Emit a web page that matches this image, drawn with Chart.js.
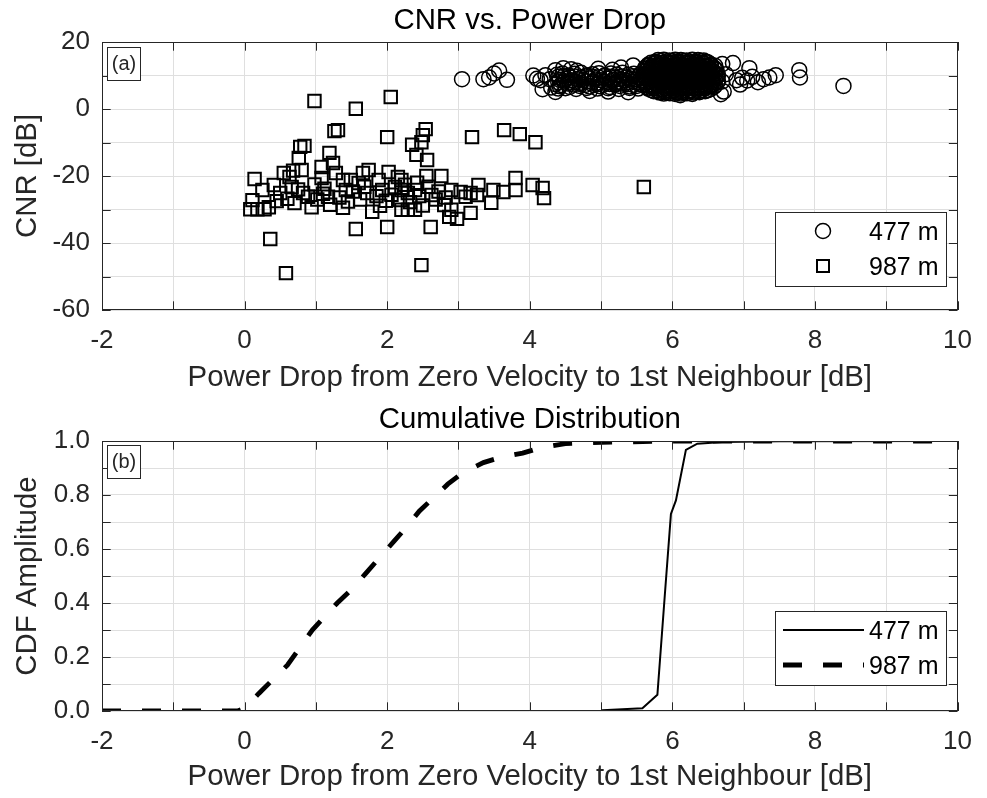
<!DOCTYPE html>
<html>
<head>
<meta charset="utf-8">
<title>CNR vs. Power Drop</title>
<script src="https://cdn.jsdelivr.net/npm/chart.js@4/dist/chart.umd.min.js"></script>
<style>
  body { margin: 0; background: #fff; }
  .panel { position: absolute; left: 0; width: 987px; height: 399px; }
  #top { top: 0; }
  #bottom { top: 399px; }
</style>
</head>
<body>
<div class="panel" id="top"><canvas id="cnrChart" width="987" height="399"></canvas></div>
<div class="panel" id="bottom"><canvas id="cdfChart" width="987" height="399"></canvas></div>
<script>
const seriesNames = ['477 m', '987 m']

// [power drop dB, CNR dB]
const cnr477 = [
  // sparse left tail
  [3.05, 8.9], [3.35, 8.9], [3.43, 9.4], [3.5, 10.6], [3.57, 11.5], [3.68, 8.7], [4.05, 10.0], [4.1, 9.0],
  [4.15, 8.6], [4.18, 5.9], [4.22, 10.1], [4.28, 8.9], [4.3, 6.4], [4.47, 12.2], [4.4, 6.1],
  // band 4.3 .. 5.6 dB
  [4.38, 10.2], [4.46, 10.6], [4.55, 10.0], [4.63, 10.5], [4.72, 10.8], [4.8, 10.1], [4.88, 10.4], [4.97, 10.7],
  [5.05, 10.0], [5.14, 10.6], [5.22, 10.3], [5.3, 10.8], [5.38, 10.2], [5.46, 10.5], [5.55, 10.4],
  [4.4, 9.6], [4.48, 9.8], [4.56, 9.5], [4.64, 9.7], [4.72, 9.4], [4.8, 9.8], [4.88, 9.6], [4.96, 9.5],
  [5.04, 9.8], [5.12, 9.6], [5.2, 9.4], [5.28, 9.7], [5.36, 9.5], [5.44, 9.8], [5.52, 9.6],
  [4.42, 8.7], [4.5, 9.0], [4.58, 8.6], [4.67, 8.9], [4.75, 8.7], [4.84, 9.1], [4.92, 8.8], [5.0, 8.6],
  [5.09, 9.0], [5.17, 8.7], [5.26, 8.9], [5.34, 8.6], [5.42, 9.0], [5.5, 8.8], [5.58, 8.7],
  [4.4, 8.0], [4.48, 8.2], [4.56, 7.9], [4.64, 8.1], [4.72, 7.8], [4.8, 8.2], [4.88, 8.0], [4.96, 7.9],
  [5.04, 8.2], [5.12, 8.0], [5.2, 7.8], [5.28, 8.1], [5.36, 7.9], [5.44, 8.2], [5.52, 8.0],
  [4.36, 7.4], [4.44, 7.2], [4.53, 7.6], [4.61, 7.3], [4.7, 7.5], [4.78, 7.2], [4.86, 7.6], [4.95, 7.4],
  [5.03, 7.2], [5.12, 7.5], [5.2, 7.3], [5.28, 7.6], [5.37, 7.4], [5.45, 7.2], [5.53, 7.5],
  [4.42, 6.8], [4.56, 6.6], [4.7, 6.9], [4.84, 6.7], [4.98, 6.8], [5.12, 6.6], [5.26, 6.9], [5.4, 6.7], [5.5, 6.9],
  [4.5, 6.2], [4.65, 6.0], [4.8, 6.3], [4.95, 6.1], [5.1, 6.2], [5.25, 6.0], [5.4, 6.3], [5.52, 6.1],
  [4.36, 11.6], [4.36, 5.1], [4.66, 11.4], [4.96, 12.0], [5.16, 11.7], [5.28, 12.4], [5.45, 13.0], [5.1, 5.2],
  [5.38, 5.0], [4.58, 11.9], [4.84, 5.4],
  // dense core 5.6 .. 6.6 dB
  [5.8, 14.6], [5.88, 14.7], [5.96, 14.5], [6.04, 14.7], [6.12, 14.6], [6.2, 14.5], [6.28, 14.7], [6.36, 14.6], [6.44, 14.5],
  [5.76, 14.1], [5.84, 14.3], [5.92, 14.2], [6.0, 14.3], [6.08, 14.1], [6.16, 14.3], [6.24, 14.2], [6.32, 14.1],
  [6.4, 14.3], [6.48, 14.0],
  [5.7, 13.8], [5.78, 13.9], [5.86, 13.7], [5.94, 13.8], [6.02, 13.9], [6.1, 13.7], [6.18, 13.8], [6.26, 13.9],
  [6.34, 13.7], [6.42, 13.8], [6.5, 13.9],
  [5.66, 13.2], [5.74, 13.4], [5.82, 13.3], [5.9, 13.2], [5.98, 13.4], [6.06, 13.3], [6.14, 13.2], [6.22, 13.4],
  [6.3, 13.3], [6.38, 13.2], [6.46, 13.4], [6.54, 13.3],
  [5.66, 12.9], [5.74, 12.8], [5.82, 13.0], [5.9, 12.9], [5.98, 12.8], [6.06, 13.0], [6.14, 12.9], [6.22, 12.8],
  [6.3, 13.0], [6.38, 12.9], [6.46, 12.8], [6.54, 13.0], [6.6, 12.9],
  [5.62, 12.4], [5.7, 12.3], [5.78, 12.5], [5.86, 12.4], [5.94, 12.3], [6.02, 12.5], [6.1, 12.4], [6.18, 12.3],
  [6.26, 12.5], [6.34, 12.4], [6.42, 12.3], [6.5, 12.5], [6.58, 12.4],
  [5.64, 12.0], [5.72, 11.9], [5.8, 12.1], [5.88, 12.0], [5.96, 11.9], [6.04, 12.1], [6.12, 12.0], [6.2, 11.9],
  [6.28, 12.1], [6.36, 12.0], [6.44, 11.9], [6.52, 12.1], [6.6, 12.0],
  [5.6, 11.5], [5.68, 11.6], [5.76, 11.4], [5.84, 11.5], [5.92, 11.6], [6.0, 11.4], [6.08, 11.5], [6.16, 11.6],
  [6.24, 11.4], [6.32, 11.5], [6.4, 11.6], [6.48, 11.4], [6.56, 11.5], [6.62, 11.6],
  [5.62, 11.1], [5.7, 11.0], [5.78, 11.2], [5.86, 11.1], [5.94, 11.0], [6.02, 11.2], [6.1, 11.1], [6.18, 11.0],
  [6.26, 11.2], [6.34, 11.1], [6.42, 11.0], [6.5, 11.2], [6.58, 11.1],
  [5.64, 10.6], [5.72, 10.5], [5.8, 10.7], [5.88, 10.6], [5.96, 10.5], [6.04, 10.7], [6.12, 10.6], [6.2, 10.5],
  [6.28, 10.7], [6.36, 10.6], [6.44, 10.5], [6.52, 10.7], [6.6, 10.6],
  [5.6, 10.2], [5.68, 10.1], [5.76, 10.3], [5.84, 10.2], [5.92, 10.1], [6.0, 10.3], [6.08, 10.2], [6.16, 10.1],
  [6.24, 10.3], [6.32, 10.2], [6.4, 10.1], [6.48, 10.3], [6.56, 10.2], [6.64, 10.1],
  [5.6, 9.7], [5.68, 9.8], [5.76, 9.6], [5.84, 9.7], [5.92, 9.8], [6.0, 9.6], [6.08, 9.7], [6.16, 9.8],
  [6.24, 9.6], [6.32, 9.7], [6.4, 9.8], [6.48, 9.6], [6.56, 9.7], [6.63, 9.8],
  [5.62, 9.3], [5.7, 9.2], [5.78, 9.4], [5.86, 9.3], [5.94, 9.2], [6.02, 9.4], [6.1, 9.3], [6.18, 9.2],
  [6.26, 9.4], [6.34, 9.3], [6.42, 9.2], [6.5, 9.4], [6.58, 9.3],
  [5.64, 8.8], [5.72, 8.7], [5.8, 8.9], [5.88, 8.8], [5.96, 8.7], [6.04, 8.9], [6.12, 8.8], [6.2, 8.7],
  [6.28, 8.9], [6.36, 8.8], [6.44, 8.7], [6.52, 8.9], [6.6, 8.8],
  [5.6, 8.4], [5.68, 8.3], [5.76, 8.5], [5.84, 8.4], [5.92, 8.3], [6.0, 8.5], [6.08, 8.4], [6.16, 8.3],
  [6.24, 8.5], [6.32, 8.4], [6.4, 8.3], [6.48, 8.5], [6.56, 8.4], [6.64, 8.3],
  [5.6, 7.9], [5.68, 8.0], [5.76, 7.8], [5.84, 7.9], [5.92, 8.0], [6.0, 7.8], [6.08, 7.9], [6.16, 8.0],
  [6.24, 7.8], [6.32, 7.9], [6.4, 8.0], [6.48, 7.8], [6.56, 7.9], [6.63, 8.0],
  [5.62, 7.5], [5.7, 7.4], [5.78, 7.6], [5.86, 7.5], [5.94, 7.4], [6.02, 7.6], [6.1, 7.5], [6.18, 7.4],
  [6.26, 7.6], [6.34, 7.5], [6.42, 7.4], [6.5, 7.6], [6.58, 7.5],
  [5.64, 7.0], [5.72, 6.9], [5.8, 7.1], [5.88, 7.0], [5.96, 6.9], [6.04, 7.1], [6.12, 7.0], [6.2, 6.9],
  [6.28, 7.1], [6.36, 7.0], [6.44, 6.9], [6.52, 7.1], [6.6, 7.0],
  [5.64, 6.6], [5.72, 6.5], [5.8, 6.7], [5.88, 6.6], [5.96, 6.5], [6.04, 6.7], [6.12, 6.6], [6.2, 6.5],
  [6.28, 6.7], [6.36, 6.6], [6.44, 6.5], [6.52, 6.7], [6.58, 6.6],
  [5.66, 6.1], [5.74, 6.2], [5.82, 6.0], [5.9, 6.1], [5.98, 6.2], [6.06, 6.0], [6.14, 6.1], [6.22, 6.2],
  [6.3, 6.0], [6.38, 6.1], [6.46, 6.2], [6.54, 6.0],
  [5.7, 5.7], [5.78, 5.6], [5.86, 5.8], [5.94, 5.7], [6.02, 5.6], [6.1, 5.8], [6.18, 5.7], [6.26, 5.6],
  [6.34, 5.8], [6.42, 5.7], [6.5, 5.6],
  [5.74, 5.3], [5.82, 5.2], [5.9, 5.4], [5.98, 5.3], [6.06, 5.2], [6.14, 5.4], [6.22, 5.3], [6.3, 5.2],
  [6.38, 5.4], [6.46, 5.3],
  [5.82, 4.9], [5.9, 5.0], [5.98, 4.8], [6.06, 4.9], [6.14, 5.0], [6.22, 4.8], [6.3, 4.9], [6.38, 5.0],
  [5.88, 4.6], [5.96, 4.7], [6.04, 4.5], [6.12, 4.6], [6.2, 4.7], [6.28, 4.5], [6.11, 4.1],
  // sparse right tail
  [6.7, 13.4], [6.72, 5.2], [6.75, 10.4], [6.7, 8.2], [6.85, 13.7], [6.9, 8.6], [6.98, 9.3], [7.05, 8.5],
  [7.08, 12.2], [7.12, 9.6], [7.2, 8.0], [7.28, 8.9], [7.36, 9.4], [7.45, 10.1], [7.78, 11.6], [7.79, 9.4],
  [8.4, 6.9], [6.68, 4.4], [6.95, 7.3]
]

const cnr987 = [
  [0.98, 2.4], [1.56, 0.1], [2.05, 3.6], [1.26, -6.6], [1.31, -6.3], [0.78, -11.3], [0.84, -11.0], [0.76, -14.6],
  [1.19, -13.1], [2.0, -8.4], [2.54, -6.0], [2.5, -7.8], [2.48, -9.9], [2.35, -10.7], [2.41, -13.7], [2.56, -15.2],
  [3.19, -8.4], [3.64, -6.3], [3.86, -7.5], [4.08, -9.9], [5.6, -23.3], [0.36, -38.8], [0.58, -49], [1.56, -35.8],
  [2.0, -35.2], [2.61, -35.2], [2.48, -46.6],
  [0.14, -20.9], [0.25, -24.2], [0.11, -27.2], [0.08, -29.9], [0.18, -29.9], [0.28, -29.9], [0.34, -29.3], [0.41, -22.7],
  [0.55, -19.1], [0.5, -25.1], [0.63, -20.3], [0.7, -28.1], [0.66, -23.3], [0.8, -18.2], [0.82, -25.1], [0.94, -29.3],
  [0.89, -26.2], [1.08, -17.3], [1.08, -20.6], [1.24, -16.1], [1.17, -26.2], [1.28, -19.1], [1.38, -21.2], [1.42, -24.2],
  [1.49, -21.2], [1.6, -22.1], [1.66, -19.1], [1.72, -25.1], [1.74, -18.2], [1.79, -30.7], [1.88, -21.2], [1.93, -24.2],
  [2.02, -18.8], [2.11, -23.3], [2.2, -21.2], [2.29, -25.1], [2.29, -30.1], [2.15, -20.3], [2.39, -24.2], [2.2, -24.2],
  [2.62, -25.7], [2.2, -30.1], [2.39, -30.1], [2.8, -28.7], [2.9, -30.1], [2.87, -32.2], [2.98, -32.8], [2.9, -24.2],
  [3.03, -24.8], [3.17, -25.1], [3.28, -22.7], [3.17, -31], [3.46, -28], [3.49, -24.2], [3.63, -24.8], [3.8, -20.6],
  [3.8, -24.2], [4.04, -22.7], [4.18, -23.6], [4.2, -26.6], [3.26, -25.7], [3.1, -26.2], [2.55, -20.0], [2.76, -20.0],
  [0.6, -26.8], [0.75, -24.0], [0.98, -22.5], [1.02, -27.0], [1.12, -23.8], [1.2, -28.6], [1.33, -26.4], [1.45, -27.6],
  [1.52, -24.6], [1.62, -27.0], [1.68, -23.2], [1.85, -26.0], [1.98, -27.4], [2.06, -25.6], [2.18, -27.2], [2.25, -22.6],
  [2.32, -27.8], [2.45, -26.0], [2.5, -28.8], [2.58, -23.2], [2.68, -27.0], [2.72, -24.6], [2.82, -26.4], [1.1, -25.3],
  [0.45, -27.5], [1.9, -28.9], [2.42, -22.0], [0.68, -18.4], [1.38, -29.5]
]

// cumulative distribution, panel (b)
const cdfX477 = [-2, 5.0, 5.02, 5.58, 5.79, 5.9, 5.98, 6.05, 6.19, 6.35, 6.7, 7.5, 9.8]
const cdf477 = [0, 0, 0.003, 0.01, 0.06, 0.45, 0.73, 0.78, 0.967, 0.99, 0.996, 0.999, 1]
const cdfX987 = [-2, -0.1, 0.0, 0.2, 0.6, 0.95, 1.3, 1.5, 1.7, 1.9, 2.1, 2.3, 2.45, 2.65, 2.85, 3.05, 3.35, 3.6, 3.9, 4.15, 4.5, 5.0, 6.0, 9.8]
const cdf987 = [0, 0, 0.01, 0.065, 0.17, 0.3, 0.4, 0.45, 0.51, 0.57, 0.63, 0.69, 0.74, 0.79, 0.84, 0.88, 0.92, 0.94, 0.955, 0.975, 0.99, 0.995, 1, 1]

const FONT = 'Liberation Sans, Arial, Helvetica, sans-serif'
const AXIS_COLOR = '#262626'
const GRID_COLOR = '#dfdfdf'

Chart.defaults.font.family = FONT
Chart.defaults.color = AXIS_COLOR

const xAxis = (height) => ({
    type: 'linear',
    min: -2,
    max: 10,
    afterFit: (scale) => { scale.height = height },
    grid: { color: GRID_COLOR, drawTicks: false },
    border: { display: false },
    ticks: {
        stepSize: 1,
        autoSkip: false,
        maxRotation: 0,
        padding: 15,
        font: { size: 26 },
        color: AXIS_COLOR,
        callback: (v) => Math.round(v) % 2 === 0 ? String(Math.round(v)) : ''
    },
    title: {
        display: true,
        text: 'Power Drop from Zero Velocity to 1st Neighbour [dB]',
        font: { size: 29.4 },
        color: AXIS_COLOR,
        padding: { top: 0, bottom: 3 }
    }
})

const yTitle = (text) => ({
    display: true,
    text: text,
    font: { size: 29.4 },
    color: AXIS_COLOR,
    padding: { top: 10, bottom: 0 }
})

// title, box, inward ticks, panel tag and legend (MATLAB style)
const framePlugin = {
    id: 'frame',
    afterDraw(chart, args, opts) {
        const { ctx, chartArea: a, scales: { x, y } } = chart
        const tl = 8.7
        ctx.save()

        ctx.fillStyle = '#000'
        ctx.font = '29.4px ' + FONT
        ctx.textAlign = 'center'
        ctx.textBaseline = 'middle'
        ctx.fillText(opts.title, (a.left + a.right) / 2, 21)

        ctx.strokeStyle = AXIS_COLOR
        ctx.lineWidth = 1
        ctx.beginPath()
        x.ticks.forEach((t, i) => {
            const px = Math.round(x.getPixelForTick(i)) + 0.5
            ctx.moveTo(px, a.bottom); ctx.lineTo(px, a.bottom - tl)
            ctx.moveTo(px, a.top); ctx.lineTo(px, a.top + tl)
        })
        y.ticks.forEach((t, i) => {
            const py = Math.round(y.getPixelForTick(i)) + 0.5
            ctx.moveTo(a.left, py); ctx.lineTo(a.left + tl, py)
            ctx.moveTo(a.right, py); ctx.lineTo(a.right - tl, py)
        })
        ctx.stroke()
        ctx.strokeRect(Math.round(a.left) + 0.5, Math.round(a.top) + 0.5, Math.round(a.width) - 1, Math.round(a.height) - 1)

        // panel tag
        const tag = opts.tag
        ctx.fillStyle = '#fff'
        ctx.fillRect(tag.x, tag.y, 33, 33)
        ctx.strokeStyle = AXIS_COLOR
        ctx.strokeRect(tag.x + 0.5, tag.y + 0.5, 33, 33)
        ctx.fillStyle = AXIS_COLOR
        ctx.font = '20px ' + FONT
        ctx.fillText(tag.text, tag.x + 17, tag.y + 17)

        // legend box
        const lg = { left: 775, top: 212, right: 946, bottom: 286 }
        ctx.fillStyle = '#fff'
        ctx.fillRect(lg.left, lg.top, lg.right - lg.left, lg.bottom - lg.top)
        ctx.strokeStyle = AXIS_COLOR
        ctx.strokeRect(lg.left + 0.5, lg.top + 0.5, lg.right - lg.left, lg.bottom - lg.top)
        const rows = [231, 266]
        chart.data.datasets.forEach((ds, i) => {
            const ry = rows[i]
            ctx.strokeStyle = '#000'
            ctx.lineWidth = ds.borderWidth
            if (opts.kind === 'marker') {
                ctx.beginPath()
                if (ds.pointStyle === 'circle') {
                    ctx.arc(823, ry, ds.pointRadius, 0, Math.PI * 2)
                } else {
                    ctx.rect(817, ry - 6, 12, 12)
                }
                ctx.stroke()
            } else {
                ctx.setLineDash(ds.borderDash || [])
                ctx.beginPath()
                ctx.moveTo(783, ry)
                ctx.lineTo(864, ry)
                ctx.stroke()
                ctx.setLineDash([])
            }
            ctx.fillStyle = '#000'
            ctx.font = '25px ' + FONT
            ctx.textAlign = 'left'
            ctx.fillText(ds.label, 869, ry + 2)
            ctx.textAlign = 'center'
        })
        ctx.restore()
    }
}

const cnrChart = new Chart(document.getElementById('cnrChart'), {
    type: 'scatter',
    data: {
        datasets: [
            {
                label: seriesNames[0],
                data: cnr477.map(p => ({ x: p[0], y: p[1] })),
                pointStyle: 'circle',
                pointRadius: 7.5,
                borderWidth: 1.5,
                borderColor: '#000',
                backgroundColor: 'rgba(0,0,0,0)'
            },
            {
                label: seriesNames[1],
                data: cnr987.map(p => ({ x: p[0], y: p[1] })),
                pointStyle: 'rect',
                pointRadius: 8.8,
                borderWidth: 2,
                borderColor: '#000',
                backgroundColor: 'rgba(0,0,0,0)'
            }
        ]
    },
    options: {
        responsive: false,
        animation: false,
        layout: { padding: { left: 0, right: 15, top: 42, bottom: 0 } },
        plugins: {
            legend: { display: false },
            tooltip: { enabled: false },
            title: { display: false },
            frame: { title: 'CNR vs. Power Drop', kind: 'marker', tag: { x: 107, y: 47, text: '(a)' } }
        },
        scales: {
            x: xAxis(89),
            y: {
                type: 'linear',
                min: -60,
                max: 20,
                afterFit: (scale) => { scale.width = 102 },
                grid: { color: GRID_COLOR, drawTicks: false },
                border: { display: false },
                ticks: {
                    stepSize: 10,
                    autoSkip: false,
                    padding: 12,
                    font: { size: 26 },
                    color: AXIS_COLOR,
                    callback: (v) => Math.round(v) % 20 === 0 ? String(Math.round(v)) : ''
                },
                title: yTitle('CNR [dB]')
            }
        }
    },
    plugins: [framePlugin]
})

const cdfChart = new Chart(document.getElementById('cdfChart'), {
    type: 'line',
    data: {
        datasets: [
            {
                label: seriesNames[0],
                data: cdfX477.map((v, i) => ({ x: v, y: cdf477[i] })),
                borderColor: '#000',
                borderWidth: 2,
                pointRadius: 0,
                tension: 0,
                fill: false,
                order: 1
            },
            {
                label: seriesNames[1],
                data: cdfX987.map((v, i) => ({ x: v, y: cdf987[i] })),
                borderColor: '#000',
                borderWidth: 4.8,
                borderDash: [19, 21],
                borderCapStyle: 'butt',
                pointRadius: 0,
                tension: 0,
                fill: false,
                order: 0
            }
        ]
    },
    options: {
        responsive: false,
        animation: false,
        layout: { padding: { left: 0, right: 16, top: 42, bottom: 0 } },
        plugins: {
            legend: { display: false },
            tooltip: { enabled: false },
            title: { display: false },
            frame: { title: 'Cumulative Distribution', kind: 'line', tag: { x: 107, y: 46, text: '(b)' } }
        },
        scales: {
            x: xAxis(87),
            y: {
                type: 'linear',
                min: 0,
                max: 1,
                afterFit: (scale) => { scale.width = 102 },
                grid: { color: GRID_COLOR, drawTicks: false },
                border: { display: false },
                ticks: {
                    stepSize: 0.1,
                    autoSkip: false,
                    padding: 12,
                    font: { size: 26 },
                    color: AXIS_COLOR,
                    callback: (v) => Math.round(v * 10) % 2 === 0 ? v.toFixed(1) : ''
                },
                title: yTitle('CDF Amplitude')
            }
        }
    },
    plugins: [framePlugin]
})
</script>
</body>
</html>
